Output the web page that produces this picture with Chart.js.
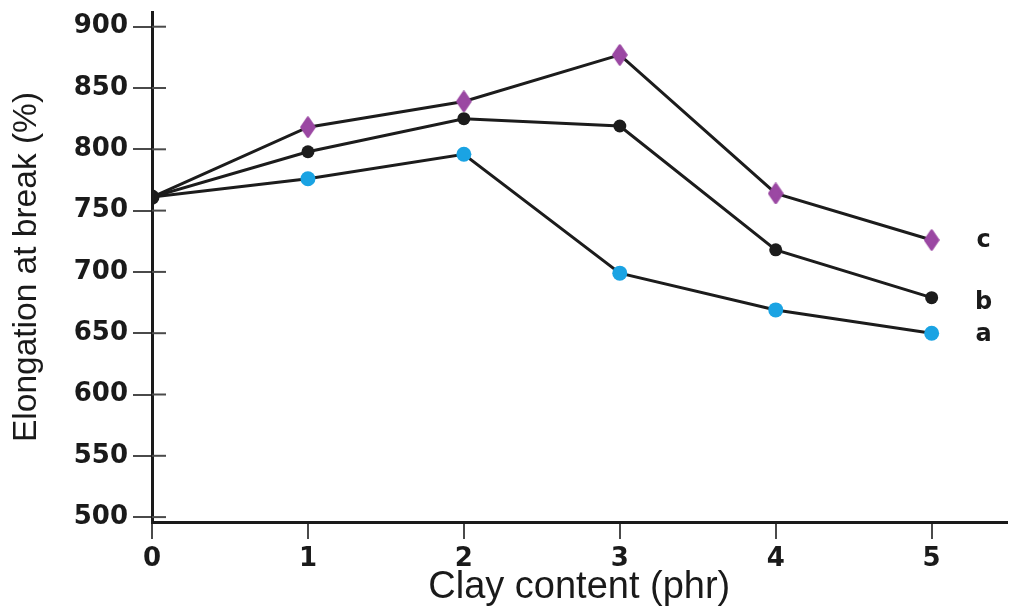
<!DOCTYPE html>
<html>
<head>
<meta charset="utf-8">
<title>Elongation at break vs clay content</title>
<script src="https://cdn.jsdelivr.net/npm/chart.js"></script>
<style>
  html, body { margin: 0; padding: 0; background: #fff; }
  #wrap { width: 1014px; height: 608px; }
</style>
</head>
<body>
<div id="wrap"><canvas id="myChart" width="1014" height="608"></canvas></div>
<script>
// values
const clayContent = [0, 1, 2, 3, 4, 5]
const seriesA = [761, 776, 796, 699, 669, 650]
const seriesB = [761, 798, 825, 819, 718, 679]
const seriesC = [761, 818, 839, 877, 764, 726]
const seriesNames = ['a', 'b', 'c']
const yTicks = [500, 550, 600, 650, 700, 750, 800, 850, 900]
const xTicks = [0, 1, 2, 3, 4, 5]

const lineColor = '#1c1c1c'
const cyan = '#1aa3e3'
const purple = '#9b48a3'

// tall diamond marker used for series c
function makeDiamond() {
    let c = document.createElement('canvas')
    c.width = 16
    c.height = 22
    let g = c.getContext('2d')
    g.fillStyle = purple
    g.strokeStyle = purple
    g.lineJoin = 'round'
    g.lineWidth = 2.5
    g.beginPath()
    g.moveTo(8, 1.5)
    g.lineTo(14.5, 11)
    g.lineTo(8, 20.5)
    g.lineTo(1.5, 11)
    g.closePath()
    g.fill()
    g.stroke()
    return c
}
const diamond = makeDiamond()

function pts(values) {
    return values.map((v, i) => ({ x: clayContent[i], y: v }))
}

// first point is shared, drawn black
function firstBlack(color) {
    return ctx => ctx.dataIndex === 0 ? lineColor : color
}

const tickFont = { family: 'DejaVu Sans', size: 26, weight: 'bold' }

// inner half of the y tick marks + curve letters
const extras = {
    id: 'extras',
    afterDatasetsDraw(chart) {
        const c = chart.ctx
        const y = chart.scales.y
        c.save()
        c.strokeStyle = '#4a4a4a'
        c.lineWidth = 2
        yTicks.forEach(v => {
            const py = y.getPixelForValue(v)
            c.beginPath()
            c.moveTo(y.right, py)
            c.lineTo(y.right + 14, py)
            c.stroke()
        })
        c.fillStyle = '#1a1a1a'
        c.font = 'bold 24px "DejaVu Sans"'
        c.textAlign = 'center'
        c.textBaseline = 'middle'
        const shifts = [2, 5, 1]
        chart.data.datasets.forEach((ds, i) => {
            const meta = chart.getDatasetMeta(i)
            const last = meta.data[meta.data.length - 1]
            c.fillText(seriesNames[i], last.x + 52, last.y + shifts[i])
        })
        c.restore()
    }
}

const data = {
    datasets: [
        {
            label: 'a',
            data: pts(seriesA),
            borderColor: lineColor,
            borderWidth: 3,
            pointStyle: 'circle',
            pointRadius: 7.5,
            pointBackgroundColor: firstBlack(cyan),
            pointBorderColor: firstBlack(cyan),
            pointBorderWidth: 0
        },
        {
            label: 'b',
            data: pts(seriesB),
            borderColor: lineColor,
            borderWidth: 3,
            pointStyle: 'circle',
            pointRadius: 6.5,
            pointBackgroundColor: lineColor,
            pointBorderColor: lineColor,
            pointBorderWidth: 0,
            order: -1
        },
        {
            label: 'c',
            data: pts(seriesC),
            borderColor: lineColor,
            borderWidth: 3,
            pointStyle: ctx => ctx.dataIndex === 0 ? 'circle' : diamond,
            pointRadius: 6.5,
            pointBackgroundColor: lineColor,
            pointBorderColor: lineColor,
            pointBorderWidth: 0
        }
    ]
}

const config = {
    type: 'line',
    data,
    options: {
        responsive: false,
        animation: false,
        layout: { padding: { top: 12, right: 4, left: 0, bottom: 0 } },
        plugins: {
            legend: { display: false },
            tooltip: { enabled: false }
        },
        scales: {
            x: {
                type: 'linear',
                min: 0,
                max: 5.48,
                afterBuildTicks: s => { s.ticks = xTicks.map(v => ({ value: v })) },
                afterFit: s => {
                    s.height = 86
                    s.paddingLeft = 0
                    s.paddingRight = 0
                },
                border: { display: true, color: '#1a1a1a', width: 3 },
                grid: {
                    drawOnChartArea: false,
                    drawTicks: true,
                    tickLength: 17,
                    color: '#4a4a4a',
                    lineWidth: 2
                },
                ticks: {
                    color: '#1a1a1a',
                    font: tickFont,
                    padding: 5,
                    maxRotation: 0,
                    callback: v => String(v)
                },
                title: {
                    display: true,
                    text: 'Clay content (phr)',
                    color: '#1a1a1a',
                    font: { family: 'Liberation Sans', size: 38, lineHeight: 1 },
                    padding: { top: 0, bottom: 1 }
                }
            },
            y: {
                min: 496,
                max: 912,
                afterBuildTicks: s => { s.ticks = yTicks.map(v => ({ value: v })) },
                afterFit: s => {
                    s.width = 152
                    s.paddingTop = 0
                    s.paddingBottom = 0
                },
                border: { display: true, color: '#1a1a1a', width: 3 },
                grid: {
                    drawOnChartArea: false,
                    drawTicks: true,
                    tickLength: 19,
                    color: '#4a4a4a',
                    lineWidth: 2
                },
                ticks: {
                    color: '#1a1a1a',
                    font: tickFont,
                    padding: 5
                },
                title: {
                    display: true,
                    text: 'Elongation at break (%)',
                    color: '#1a1a1a',
                    font: { family: 'Liberation Sans', size: 33.5, lineHeight: 1 },
                    padding: { top: 10, bottom: 0 }
                }
            }
        }
    },
    plugins: [extras]
}

new Chart(document.getElementById('myChart'), config)
</script>
</body>
</html>
